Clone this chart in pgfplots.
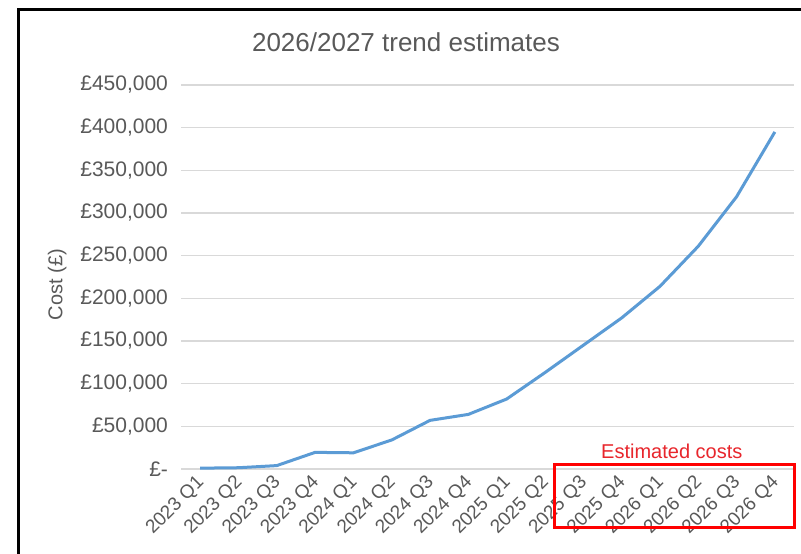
\documentclass[border=0pt]{standalone}
\usepackage{pgfplots}
\pgfplotsset{compat=1.18}
\usepackage{fontspec}
\setmainfont{Liberation Sans}
\definecolor{txtgray}{HTML}{595959}
\definecolor{gridgray}{HTML}{D9D9D9}
\definecolor{lineblue}{HTML}{5B9BD5}
\definecolor{boxred}{HTML}{FF0000}
\definecolor{textred}{HTML}{E8262C}
\begin{document}
\begin{tikzpicture}[x=1pt,y=1pt]
\useasboundingbox (0,0) rectangle (400.5,276.5);
\fill[white] (0,0) rectangle (400.5,276.5);
\draw[black, line width=1.5pt] (9,-2) -- (9,271.5) -- (402,271.5);
\node[txtgray, font=\fontsize{13}{15}\selectfont] at (203,255.5) {2026/2027 trend estimates};
\begin{axis}[
  at={(90.5pt,42pt)}, anchor=south west, scale only axis,
  width=306.5pt, height=192pt,
  xmin=-0.5, xmax=15.5, ymin=0, ymax=450000,
  scaled y ticks=false,
  axis line style={draw=none},
  ymajorgrids, grid style={gridgray, line width=0.6pt},
  major tick length=0pt,
  ytick={0,50000,100000,150000,200000,250000,300000,350000,400000,450000},
  yticklabels={{£-},{£50,000},{£100,000},{£150,000},{£200,000},{£250,000},{£300,000},{£350,000},{£400,000},{£450,000}},
  yticklabel style={txtgray, font=\fontsize{10.5}{12}\selectfont, anchor=east, xshift=-3pt},
  xtick={0,1,2,3,4,5,6,7,8,9,10,11,12,13,14,15},
  xticklabels={2023 Q1,2023 Q2,2023 Q3,2023 Q4,2024 Q1,2024 Q2,2024 Q3,2024 Q4,2025 Q1,2025 Q2,2025 Q3,2025 Q4,2026 Q1,2026 Q2,2026 Q3,2026 Q4},
  xticklabel style={txtgray, font=\fontsize{9.5}{11}\selectfont, xshift=3pt, yshift=-3pt, rotate=45, anchor=east},
  ylabel={Cost (£)},
  ylabel style={txtgray, font=\fontsize{10}{12}\selectfont, xshift=0pt},
  every axis y label/.append style={at={(ticklabel cs:0.48)}},
  clip=false,
]
\addplot[lineblue, line width=1.5pt] coordinates {
(0,1000) (1,1500) (2,4000) (3,19500) (4,19000) (5,34000) (6,57000) (7,64000)
(8,82000) (9,113000) (10,145000) (11,177000) (12,214000) (13,261000) (14,319000) (15,395000)
};
\draw[boxred, line width=1.5pt] (axis cs:9.26,4700) rectangle (axis cs:15.52,-69000);
\node[textred, font=\fontsize{10}{12}\selectfont] at (axis cs:12.31,21000) {Estimated costs};
\end{axis}
\end{tikzpicture}
\end{document}
